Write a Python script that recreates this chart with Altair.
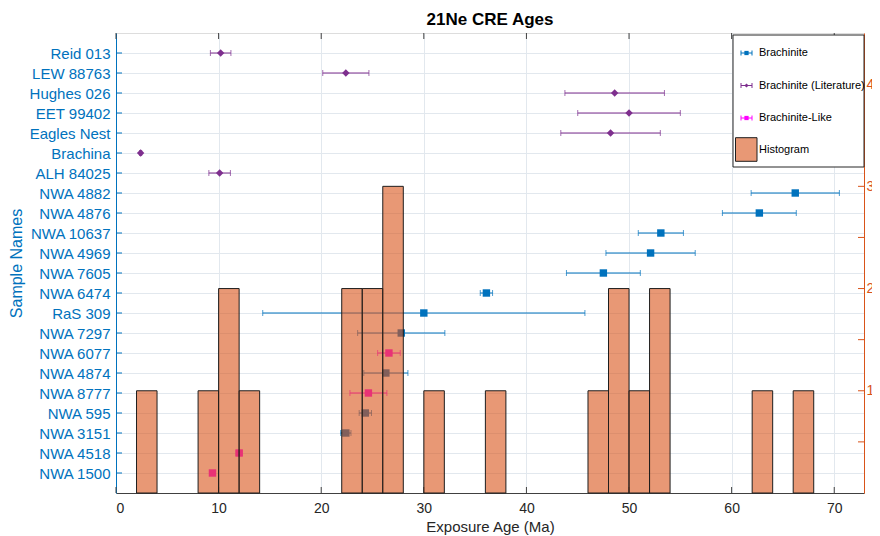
import altair as alt
import pandas as pd

title_text = "21Ne CRE Ages"
names = ["Reid 013", "LEW 88763", "Hughes 026", "EET 99402", "Eagles Nest", "Brachina",
         "ALH 84025", "NWA 4882", "NWA 4876", "NWA 10637", "NWA 4969", "NWA 7605",
         "NWA 6474", "RaS 309", "NWA 7297", "NWA 6077", "NWA 4874", "NWA 8777",
         "NWA 595", "NWA 3151", "NWA 4518", "NWA 1500"]
groups = ["Brachinite (Literature)"] * 7 + ["Brachinite"] * 8 + [
    "Brachinite-Like", "Brachinite", "Brachinite-Like", "Brachinite", "Brachinite",
    "Brachinite-Like", "Brachinite-Like"]
ages = [10.2, 22.4, 48.6, 50.0, 48.2, 2.4, 10.1, 66.2, 62.7, 53.1, 52.1, 47.5,
        36.1, 30.0, 27.8, 26.6, 26.3, 24.6, 24.3, 22.4, 12.0, 9.4]
errs = [1.0, 2.25, 4.85, 5.0, 4.85, 0.1, 1.05, 4.3, 3.6, 2.2, 4.35, 3.6,
        0.6, 15.7, 4.25, 1.1, 2.15, 1.8, 0.6, 0.5, 0.3, 0.2]

bin_starts = [2, 8, 10, 12, 22, 24, 26, 30, 36, 46, 48, 50, 52, 62, 66]
bin_counts = [1, 1, 2, 1, 2, 2, 3, 1, 1, 1, 2, 1, 2, 1, 1]
bin_width = 2

x_ticks = [0, 10, 20, 30, 40, 50, 60, 70]
count_labels = [1, 2, 3, 4]
count_ticks = [0.5, 1, 1.5, 2, 2.5, 3, 3.5, 4]

group_domain = ["Brachinite", "Brachinite (Literature)", "Brachinite-Like"]
group_colors = ["#0072BD", "#7E2F8E", "#FF00FF"]
group_shapes = ["square", "diamond", "square"]
hist_label = "Histogram"

W, H = 748, 460
FONT = "Liberation Sans"
BLUE = "#0072BD"
ORANGE = "#D95319"
DARK = "#262626"
GRID = "#e2e8ee"

df = pd.DataFrame({"name": names, "group": groups, "age": ages, "err": errs})
df["lo"] = df["age"] - df["err"]
df["hi"] = df["age"] + df["err"]
hist = pd.DataFrame({"start": bin_starts, "count": bin_counts})
hist["end"] = hist["start"] + bin_width
xt = pd.DataFrame({"v": x_ticks})
ct = pd.DataFrame({"v": count_ticks})
one = pd.DataFrame({"k": [0]})

xscale = alt.Scale(domain=[0, 72.9], nice=False, zero=False)
xaxis = alt.Axis(values=x_ticks, tickSize=0, grid=True, gridColor=GRID, domainColor="#404040",
                 labelColor=DARK, labelFontSize=14, labelPadding=8, labelFont=FONT,
                 title="Exposure Age (Ma)", titleFontSize=15, titleFontWeight="normal",
                 titleColor=DARK, titlePadding=4, titleFont=FONT)
yscale = alt.Scale(type="point", padding=1)
yaxis = alt.Axis(orient="left", tickSize=0, grid=True, gridColor=GRID, domainColor=BLUE,
                 labelColor=BLUE, labelFontSize=15, labelPadding=6, labelFont=FONT,
                 title="Sample Names", titleColor=BLUE, titleFontSize=16,
                 titleFontWeight="normal", titlePadding=5, titleFont=FONT)
ydef = alt.Y("name:N", sort=names, scale=yscale, axis=yaxis)
color = alt.Color("group:N", scale=alt.Scale(domain=group_domain, range=group_colors), legend=None)


def X(f):
    return alt.X(f, type="quantitative", scale=xscale, axis=xaxis)


base = alt.Chart(df)
rules = base.mark_rule(strokeWidth=1).encode(x=X("lo"), x2="hi:Q", y=ydef, color=color)
cap_lo = base.mark_tick(thickness=1, size=6).encode(x=X("lo"), y=ydef, color=color)
cap_hi = base.mark_tick(thickness=1, size=6).encode(x=X("hi"), y=ydef, color=color)
pts = base.mark_point(filled=True, opacity=1).encode(
    x=X("age"), y=ydef, color=color,
    shape=alt.Shape("group:N", scale=alt.Scale(domain=group_domain, range=group_shapes), legend=None),
    size=alt.value(55))
left_ticks = base.mark_rule(color=BLUE, strokeWidth=1).encode(y=ydef, x=alt.value(0), x2=alt.value(6))
bot_ticks = alt.Chart(xt).mark_rule(color="#404040").encode(x=X("v"), y=alt.value(H), y2=alt.value(H - 6))
top_ticks = alt.Chart(xt).mark_rule(color="#404040").encode(x=X("v"), y=alt.value(0), y2=alt.value(6))

points_layer = alt.layer(rules, cap_lo, cap_hi, pts, left_ticks, bot_ticks, top_ticks)

cscale = alt.Scale(domain=[0, 4.5], nice=False, zero=True)
caxis = alt.Axis(orient="right", values=count_labels, tickSize=0, grid=False, domainColor=ORANGE,
                 labelColor=ORANGE, labelFontSize=14, labelPadding=2, labelFont=FONT, title=None)
bars = alt.Chart(hist).mark_rect(fill=ORANGE, fillOpacity=0.6, stroke="#1e1e1e", strokeWidth=1).encode(
    x=X("start"), x2="end:Q",
    y=alt.Y("count:Q", scale=cscale, axis=caxis), y2=alt.datum(0))
right_ticks = alt.Chart(ct).mark_rule(color=ORANGE).encode(
    y=alt.Y("v:Q", scale=cscale, axis=caxis), x=alt.value(W), x2=alt.value(W - 6))
hist_layer = alt.layer(bars, right_ticks)

# legend
LX = 617
lg = alt.Chart(one)
legend_layers = [lg.mark_rect(fill="white", stroke=DARK, strokeWidth=1).encode(
    x=alt.value(LX), x2=alt.value(W), y=alt.value(2), y2=alt.value(134))]
for i, (lab, col, shp) in enumerate(zip(group_domain, group_colors, group_shapes)):
    yy = 20 + 32.5 * i
    legend_layers.append(lg.mark_rule(color=col).encode(
        x=alt.value(LX + 8), x2=alt.value(LX + 19), y=alt.value(yy)))
    for cx in (LX + 8, LX + 19):
        legend_layers.append(lg.mark_rule(color=col).encode(
            x=alt.value(cx), y=alt.value(yy - 2.5), y2=alt.value(yy + 2.5)))
    legend_layers.append(lg.mark_point(filled=True, shape=shp, size=18, color=col, opacity=1).encode(
        x=alt.value(LX + 13.5), y=alt.value(yy)))
    legend_layers.append(lg.mark_text(align="left", baseline="middle", fontSize=11, font=FONT,
                                      color="#000").encode(
        x=alt.value(LX + 26), y=alt.value(yy), text=alt.value(lab)))
legend_layers.append(lg.mark_rect(fill=ORANGE, fillOpacity=0.6, stroke="#1e1e1e", strokeWidth=1).encode(
    x=alt.value(LX + 2.5), x2=alt.value(LX + 24), y=alt.value(104.7), y2=alt.value(128.3)))
legend_layers.append(lg.mark_text(align="left", baseline="middle", fontSize=11, font=FONT,
                                  color="#000").encode(
    x=alt.value(LX + 26), y=alt.value(117), text=alt.value(hist_label)))

chart = alt.layer(points_layer, hist_layer, *legend_layers).resolve_scale(y="independent").properties(
    width=W, height=H,
    autosize=alt.AutoSizeParams(type="none"),
    padding={"left": 108, "top": 25, "right": 8, "bottom": 43},
    title=alt.Title(title_text, fontSize=17, fontWeight="bold", color="#000", anchor="middle",
                    offset=4, font=FONT),
).configure_view(stroke="#8c8c8c", strokeWidth=1).configure(background="white")

chart.save("out.html", embed_options={"renderer": "svg", "actions": False})
